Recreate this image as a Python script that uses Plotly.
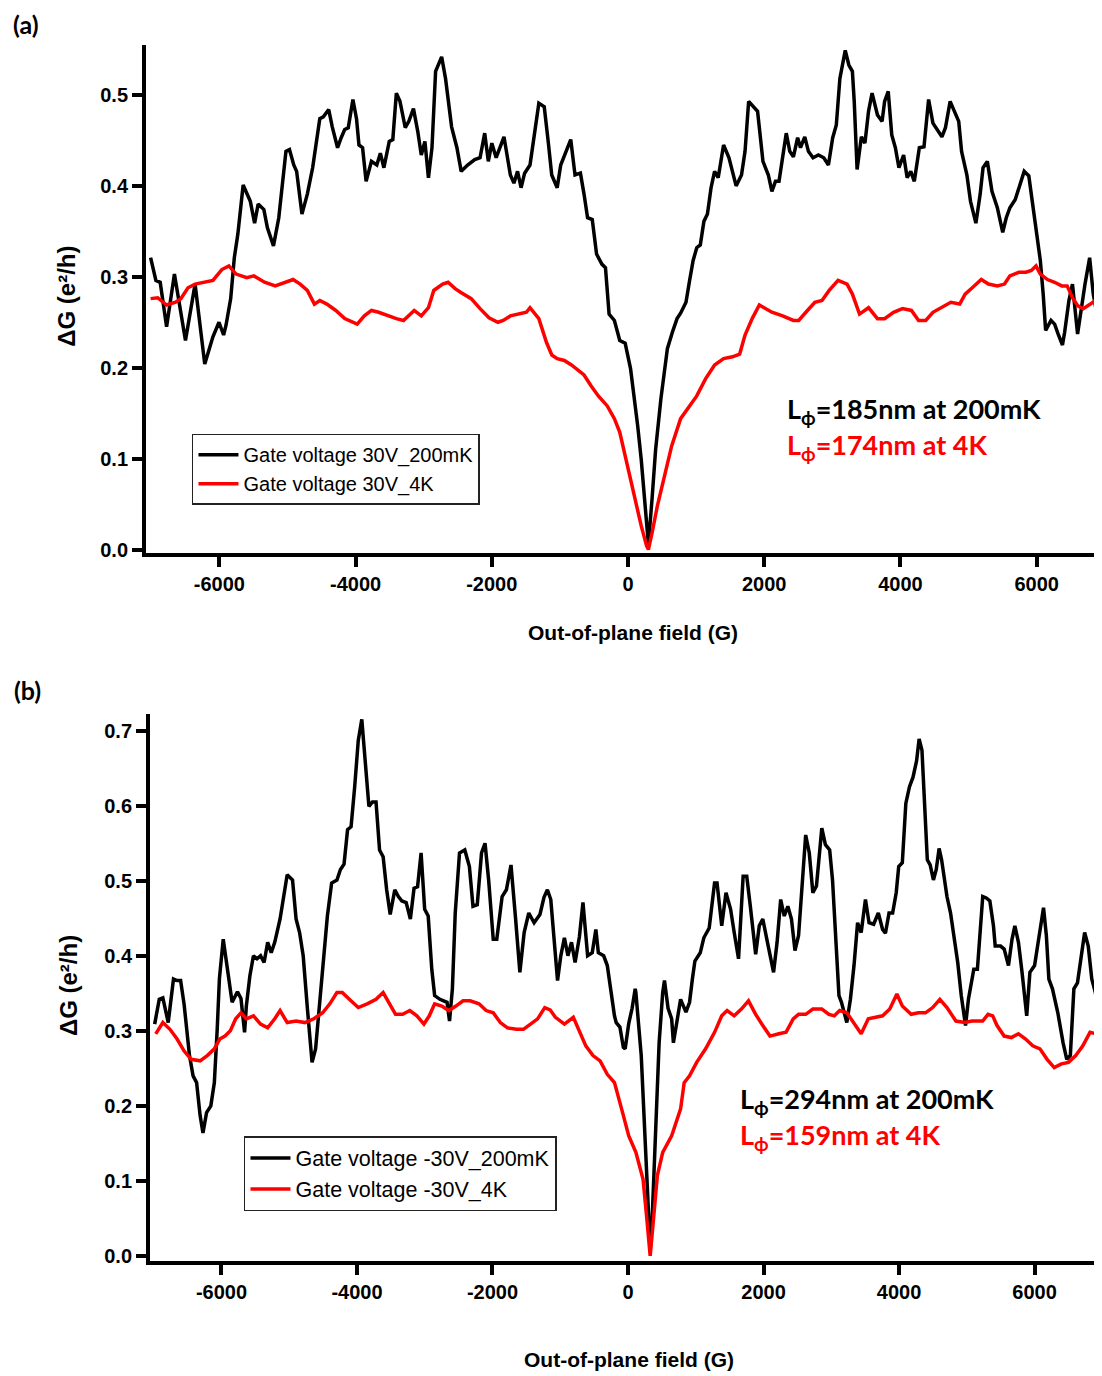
import plotly.graph_objects as go

# ---- panel (a): gate voltage 30 V ----
a_x_200mK = [-7009, -6931, -6868, -6774, -6659, -6497, -6356, -6214, -6094, -6005, -5937, -5901,
             -5833, -5780, -5728, -5650, -5597, -5545, -5482, -5430, -5346, -5294, -5205, -5127,
             -5022, -4970, -4907, -4865, -4787, -4708, -4630, -4525, -4473, -4394, -4342, -4264,
             -4211, -4159, -4107, -4039, -3986, -3950, -3897, -3845, -3767, -3688, -3636, -3584,
             -3505, -3453, -3401, -3348, -3270, -3218, -3150, -3087, -3035, -2982, -2930, -2878,
             -2825, -2736, -2679, -2590, -2512, -2449, -2355, -2250, -2172, -2104, -2051, -1999,
             -1936, -1821, -1727, -1675, -1622, -1570, -1518, -1439, -1309, -1230, -1172, -1120,
             -1040, -988, -909, -841, -778, -699, -646, -594, -525, -462, -384, -331, -278, -200,
             -121, -42, 37, 89, 142, 194, 247, 289, 299, 352, 405, 483, 536, 578, 651, 720, 772,
             851, 904, 956, 1009, 1061, 1114, 1166, 1219, 1271, 1324, 1403, 1482, 1587, 1666, 1718,
             1771, 1849, 1902, 1981, 2060, 2112, 2165, 2217, 2270, 2323, 2375, 2428, 2490, 2532,
             2595, 2648, 2716, 2795, 2874, 2942, 3005, 3058, 3110, 3189, 3242, 3294, 3321, 3363,
             3426, 3478, 3531, 3583, 3662, 3730, 3767, 3820, 3872, 3925, 3977, 4046, 4098, 4151,
             4203, 4277, 4345, 4413, 4476, 4539, 4608, 4660, 4729, 4792, 4855, 4897, 4975, 5028,
             5107, 5170, 5212, 5275, 5343, 5422, 5501, 5553, 5606, 5685, 5737, 5816, 5884, 5937,
             6000, 6053, 6095, 6131, 6210, 6263, 6315, 6378, 6410, 6473, 6525, 6600, 6709, 6777,
             6830, 6867, 6919, 6970]
a_y_200mK = [0.321, 0.296, 0.294, 0.245, 0.303, 0.230, 0.292, 0.204, 0.234, 0.250, 0.236, 0.247,
             0.276, 0.321, 0.347, 0.401, 0.392, 0.383, 0.359, 0.380, 0.374, 0.354, 0.334, 0.365,
             0.438, 0.440, 0.423, 0.416, 0.369, 0.391, 0.420, 0.474, 0.476, 0.484, 0.465, 0.442,
             0.453, 0.462, 0.464, 0.495, 0.474, 0.445, 0.442, 0.405, 0.427, 0.423, 0.436, 0.420,
             0.449, 0.451, 0.502, 0.493, 0.464, 0.471, 0.485, 0.460, 0.434, 0.449, 0.409, 0.442,
             0.526, 0.542, 0.518, 0.465, 0.442, 0.416, 0.423, 0.429, 0.431, 0.458, 0.427, 0.447,
             0.431, 0.454, 0.412, 0.403, 0.416, 0.398, 0.414, 0.423, 0.491, 0.487, 0.449, 0.412,
             0.398, 0.423, 0.438, 0.451, 0.412, 0.414, 0.391, 0.365, 0.363, 0.325, 0.314, 0.310,
             0.259, 0.252, 0.230, 0.227, 0.199, 0.169, 0.136, 0.099, 0.055, 0.011, 0.006, 0.055,
             0.110, 0.166, 0.195, 0.221, 0.239, 0.254, 0.260, 0.272, 0.296, 0.318, 0.332, 0.335,
             0.361, 0.369, 0.398, 0.416, 0.409, 0.445, 0.431, 0.400, 0.412, 0.438, 0.493, 0.487,
             0.482, 0.427, 0.412, 0.394, 0.405, 0.405, 0.434, 0.458, 0.438, 0.432, 0.453, 0.442,
             0.454, 0.438, 0.431, 0.434, 0.431, 0.423, 0.453, 0.467, 0.518, 0.549, 0.533, 0.526,
             0.493, 0.418, 0.454, 0.447, 0.482, 0.502, 0.478, 0.471, 0.493, 0.504, 0.456, 0.442,
             0.420, 0.434, 0.409, 0.416, 0.405, 0.442, 0.443, 0.495, 0.469, 0.462, 0.454, 0.464,
             0.493, 0.482, 0.471, 0.438, 0.412, 0.383, 0.359, 0.391, 0.420, 0.427, 0.394, 0.376,
             0.349, 0.365, 0.376, 0.385, 0.398, 0.416, 0.411, 0.383, 0.347, 0.318, 0.281, 0.241,
             0.252, 0.248, 0.237, 0.225, 0.239, 0.274, 0.292, 0.237, 0.292, 0.321, 0.281, 0.266,
             0.288, 0.275]

a_x_4K = [-7009, -6905, -6774, -6643, -6565, -6460, -6356, -6199, -6094, -5963, -5859, -5754,
          -5597, -5493, -5336, -5179, -5048, -4917, -4813, -4708, -4604, -4525, -4421, -4290,
          -4159, -3976, -3871, -3767, -3662, -3531, -3401, -3296, -3139, -3035, -2930, -2852,
          -2721, -2642, -2538, -2459, -2302, -2172, -2041, -1910, -1832, -1727, -1596, -1492,
          -1439, -1361, -1309, -1198, -1119, -1040, -935, -830, -725, -646, -541, -436, -305,
          -200, -121, -42, 37, 116, 194, 273, 299, 352, 431, 536, 641, 772, 904, 1009, 1140,
          1271, 1403, 1534, 1639, 1718, 1823, 1928, 2112, 2270, 2427, 2506, 2611, 2743, 2848,
          2953, 3084, 3216, 3294, 3399, 3531, 3662, 3767, 3898, 4030, 4161, 4266, 4371, 4476,
          4608, 4739, 4870, 4949, 5054, 5186, 5291, 5422, 5527, 5606, 5737, 5842, 5921, 5990,
          6053, 6158, 6263, 6368, 6447, 6525, 6604, 6683, 6788, 6893, 6970]
a_y_4K = [0.276, 0.277, 0.269, 0.272, 0.276, 0.288, 0.292, 0.294, 0.296, 0.308, 0.312, 0.303,
          0.299, 0.301, 0.294, 0.290, 0.294, 0.297, 0.292, 0.285, 0.270, 0.274, 0.270, 0.263,
          0.254, 0.248, 0.257, 0.263, 0.261, 0.257, 0.254, 0.252, 0.263, 0.257, 0.266, 0.285,
          0.292, 0.294, 0.287, 0.283, 0.276, 0.265, 0.255, 0.250, 0.252, 0.257, 0.259, 0.261,
          0.266, 0.259, 0.254, 0.228, 0.214, 0.210, 0.208, 0.203, 0.197, 0.192, 0.180, 0.169,
          0.158, 0.144, 0.129, 0.103, 0.077, 0.052, 0.026, 0.004, 0.000, 0.018, 0.048, 0.081,
          0.114, 0.144, 0.158, 0.169, 0.188, 0.203, 0.210, 0.212, 0.215, 0.236, 0.254, 0.269,
          0.261, 0.257, 0.252, 0.252, 0.261, 0.272, 0.274, 0.285, 0.296, 0.292, 0.281, 0.259,
          0.266, 0.254, 0.254, 0.261, 0.265, 0.263, 0.252, 0.252, 0.261, 0.266, 0.272, 0.270,
          0.281, 0.288, 0.297, 0.292, 0.290, 0.292, 0.301, 0.305, 0.305, 0.307, 0.312, 0.303,
          0.297, 0.294, 0.290, 0.290, 0.277, 0.268, 0.265, 0.270, 0.276, 0.280]

# ---- panel (b): gate voltage -30 V ----
b_x_200mK = [-6986, -6918, -6865, -6786, -6708, -6655, -6603, -6551, -6472, -6419, -6367, -6315,
             -6273, -6220, -6157, -6105, -6063, -6030, -5974, -5895, -5843, -5764, -5712, -5659,
             -5633, -5581, -5528, -5476, -5423, -5371, -5318, -5266, -5214, -5135, -5083, -5030,
             -4951, -4899, -4847, -4794, -4731, -4663, -4611, -4574, -4506, -4437, -4374, -4296,
             -4244, -4191, -4139, -4087, -4034, -3981, -3929, -3877, -3824, -3772, -3719, -3667,
             -3614, -3562, -3510, -3442, -3389, -3337, -3274, -3212, -3158, -3106, -3054, -3001,
             -2949, -2896, -2854, -2776, -2671, -2634, -2592, -2550, -2487, -2409, -2341, -2288,
             -2225, -2162, -2110, -2057, -1989, -1937, -1858, -1795, -1727, -1659, -1596, -1533,
             -1465, -1386, -1300, -1240, -1190, -1140, -1095, -1040, -992, -939, -887, -834, -781,
             -718, -665, -596, -528, -475, -438, -359, -306, -253, -200, -174, -120, -69, -42, 11,
             60, 106, 116, 195, 248, 301, 327, 354, 406, 459, 512, 538, 591, 644, 670, 723, 776,
             855, 908, 950, 987, 1066, 1119, 1198, 1277, 1314, 1383, 1446, 1514, 1567, 1631, 1699,
             1752, 1805, 1857, 1884, 1937, 1989, 2069, 2148, 2200, 2253, 2306, 2359, 2412, 2464,
             2517, 2570, 2622, 2675, 2728, 2781, 2860, 2913, 2976, 3018, 3071, 3113, 3150, 3229,
             3282, 3335, 3388, 3441, 3504, 3557, 3625, 3694, 3757, 3799, 3852, 3905, 3958, 3995,
             4048, 4100, 4153, 4206, 4259, 4296, 4338, 4380, 4417, 4459, 4507, 4549, 4591, 4628,
             4665, 4707, 4760, 4813, 4866, 4918, 4981, 5024, 5050, 5103, 5156, 5208, 5235, 5287,
             5340, 5393, 5419, 5498, 5551, 5615, 5667, 5709, 5762, 5815, 5884, 5931, 6000, 6053,
             6090, 6132, 6174, 6211, 6264, 6343, 6421, 6475, 6528, 6580, 6633, 6686, 6739, 6792,
             6844, 6897, 6950, 7000]
b_y_200mK = [0.309, 0.342, 0.344, 0.311, 0.369, 0.367, 0.367, 0.335, 0.267, 0.240, 0.231, 0.187,
             0.164, 0.191, 0.200, 0.231, 0.302, 0.370, 0.422, 0.369, 0.338, 0.352, 0.343, 0.298,
             0.333, 0.373, 0.400, 0.396, 0.400, 0.391, 0.418, 0.404, 0.418, 0.449, 0.475, 0.508,
             0.501, 0.449, 0.431, 0.400, 0.329, 0.258, 0.276, 0.311, 0.382, 0.453, 0.497, 0.501,
             0.515, 0.522, 0.568, 0.572, 0.625, 0.687, 0.715, 0.656, 0.599, 0.605, 0.605, 0.541,
             0.532, 0.488, 0.455, 0.488, 0.479, 0.473, 0.471, 0.449, 0.490, 0.492, 0.537, 0.462,
             0.453, 0.382, 0.347, 0.342, 0.338, 0.313, 0.356, 0.457, 0.537, 0.541, 0.519, 0.466,
             0.468, 0.537, 0.550, 0.501, 0.422, 0.422, 0.479, 0.488, 0.521, 0.449, 0.378, 0.431,
             0.457, 0.444, 0.455, 0.478, 0.488, 0.475, 0.430, 0.367, 0.400, 0.424, 0.400, 0.418,
             0.391, 0.425, 0.471, 0.400, 0.404, 0.435, 0.404, 0.400, 0.387, 0.351, 0.320, 0.311,
             0.305, 0.278, 0.276, 0.310, 0.330, 0.356, 0.351, 0.267, 0.156, 0.044, 0.009, 0.044,
             0.169, 0.284, 0.351, 0.367, 0.330, 0.316, 0.284, 0.311, 0.342, 0.325, 0.338, 0.369,
             0.393, 0.404, 0.424, 0.437, 0.497, 0.497, 0.440, 0.484, 0.462, 0.431, 0.396, 0.506,
             0.506, 0.466, 0.422, 0.402, 0.440, 0.449, 0.413, 0.378, 0.418, 0.475, 0.453, 0.466,
             0.449, 0.407, 0.427, 0.501, 0.561, 0.537, 0.484, 0.493, 0.570, 0.548, 0.541, 0.501,
             0.409, 0.347, 0.338, 0.311, 0.342, 0.387, 0.444, 0.431, 0.475, 0.444, 0.442, 0.457,
             0.435, 0.430, 0.457, 0.457, 0.484, 0.519, 0.524, 0.603, 0.625, 0.638, 0.660, 0.689,
             0.674, 0.590, 0.528, 0.521, 0.501, 0.515, 0.543, 0.528, 0.501, 0.479, 0.457, 0.427,
             0.391, 0.347, 0.307, 0.342, 0.356, 0.382, 0.382, 0.449, 0.479, 0.477, 0.473, 0.440,
             0.413, 0.413, 0.409, 0.387, 0.422, 0.440, 0.418, 0.378, 0.320, 0.378, 0.387, 0.418,
             0.440, 0.464, 0.427, 0.369, 0.356, 0.324, 0.284, 0.262, 0.267, 0.356, 0.364, 0.396,
             0.431, 0.413, 0.369, 0.351, 0.321, 0.320]

b_x_4K = [-6970, -6865, -6760, -6655, -6551, -6446, -6315, -6210, -6105, -6026, -5948, -5869,
          -5790, -5712, -5633, -5528, -5423, -5318, -5214, -5135, -5030, -4899, -4768, -4637,
          -4506, -4401, -4296, -4217, -4113, -3981, -3850, -3719, -3614, -3536, -3431, -3326,
          -3221, -3116, -3012, -2933, -2854, -2749, -2645, -2540, -2435, -2330, -2199, -2094,
          -1989, -1884, -1779, -1644, -1544, -1439, -1334, -1229, -1150, -1071, -939, -807, -728,
          -623, -517, -412, -306, -200, -95, 11, 116, 222, 274, 327, 380, 433, 512, 644, 776,
          829, 908, 1013, 1145, 1277, 1383, 1462, 1567, 1673, 1778, 1884, 1989, 2095, 2227,
          2332, 2438, 2517, 2623, 2728, 2860, 2966, 3045, 3124, 3230, 3335, 3441, 3546, 3652,
          3757, 3863, 3968, 4048, 4179, 4285, 4390, 4496, 4602, 4707, 4839, 4971, 5076, 5234,
          5313, 5382, 5446, 5551, 5657, 5762, 5868, 5973, 6079, 6185, 6290, 6396, 6501, 6607,
          6712, 6818, 6923, 7000]
b_y_4K = [0.296, 0.311, 0.302, 0.289, 0.273, 0.262, 0.260, 0.267, 0.276, 0.289, 0.293, 0.300,
          0.316, 0.324, 0.316, 0.320, 0.309, 0.304, 0.316, 0.327, 0.311, 0.313, 0.311, 0.316,
          0.324, 0.336, 0.351, 0.351, 0.342, 0.331, 0.336, 0.342, 0.351, 0.338, 0.322, 0.322,
          0.327, 0.320, 0.309, 0.320, 0.336, 0.333, 0.327, 0.333, 0.340, 0.340, 0.336, 0.327,
          0.324, 0.311, 0.304, 0.302, 0.302, 0.309, 0.316, 0.331, 0.328, 0.318, 0.309, 0.318,
          0.302, 0.280, 0.267, 0.260, 0.242, 0.231, 0.196, 0.160, 0.138, 0.102, 0.053, 0.000,
          0.053, 0.107, 0.138, 0.160, 0.196, 0.231, 0.240, 0.258, 0.276, 0.298, 0.320, 0.327,
          0.320, 0.329, 0.340, 0.322, 0.307, 0.293, 0.296, 0.298, 0.316, 0.322, 0.322, 0.329,
          0.329, 0.322, 0.320, 0.327, 0.324, 0.311, 0.296, 0.316, 0.318, 0.320, 0.329, 0.349,
          0.333, 0.322, 0.324, 0.324, 0.331, 0.342, 0.331, 0.313, 0.311, 0.313, 0.313, 0.322,
          0.320, 0.307, 0.293, 0.291, 0.296, 0.289, 0.280, 0.276, 0.262, 0.251, 0.256, 0.258,
          0.267, 0.280, 0.298, 0.296, 0.290]

x_ticks = [-6000, -4000, -2000, 0, 2000, 4000, 6000]
x_tick_text = ["-6000", "-4000", "-2000", "0", "2000", "4000", "6000"]
a_y_ticks = [0.0, 0.1, 0.2, 0.3, 0.4, 0.5]
b_y_ticks = [0.0, 0.1, 0.2, 0.3, 0.4, 0.5, 0.6, 0.7]

SANS = "Liberation Sans, Arial, sans-serif"
CAL = "Lato, Open Sans, sans-serif"
RED = "#ff0000"

fig = go.Figure()

fig.add_trace(go.Scatter(x=a_x_200mK, y=a_y_200mK, mode="lines", name="Gate voltage 30V_200mK",
                         line=dict(color="black", width=3.5), xaxis="x", yaxis="y", legend="legend"))
fig.add_trace(go.Scatter(x=a_x_4K, y=a_y_4K, mode="lines", name="Gate voltage 30V_4K",
                         line=dict(color=RED, width=3.5), xaxis="x", yaxis="y", legend="legend"))
fig.add_trace(go.Scatter(x=b_x_200mK, y=b_y_200mK, mode="lines", name="Gate voltage -30V_200mK",
                         line=dict(color="black", width=3.5), xaxis="x2", yaxis="y2", legend="legend2"))
fig.add_trace(go.Scatter(x=b_x_4K, y=b_y_4K, mode="lines", name="Gate voltage -30V_4K",
                         line=dict(color=RED, width=3.5), xaxis="x2", yaxis="y2", legend="legend2"))

axis_style = dict(showline=True, linewidth=4, linecolor="black", ticks="outside", ticklen=10,
                  tickwidth=4, tickcolor="black", showgrid=False, zeroline=False,
                  tickfont=dict(family=SANS, size=20, color="black", weight="bold"))

legend_style = dict(xanchor="left", yanchor="top", bgcolor="white", bordercolor="#222",
                    borderwidth=1.5, tracegroupgap=0, itemwidth=40)

# the page body keeps its 8px margin, so the figure sits 8px in from the corner
fig.update_layout(
    width=1086, height=1368,
    margin=dict(l=0, r=0, t=0, b=0),
    paper_bgcolor="white", plot_bgcolor="white",
    xaxis=dict(domain=[0.1271, 1.0], range=[-7076, 6841], anchor="y",
               tickvals=x_ticks, ticktext=x_tick_text, **axis_style),
    yaxis=dict(domain=[0.5996, 0.9728], range=[-0.0033, 0.555], anchor="x",
               tickvals=a_y_ticks, tickformat=".1f", **axis_style),
    xaxis2=dict(domain=[0.1308, 1.0], range=[-7054, 6877], anchor="y2",
                tickvals=x_ticks, ticktext=x_tick_text, **axis_style),
    yaxis2=dict(domain=[0.0787, 0.4806], range=[-0.0067, 0.7217], anchor="x2",
                tickvals=b_y_ticks, tickformat=".1f", **axis_style),
    legend=dict(x=0.1694, y=0.6870, font=dict(family=SANS, size=20, color="black"),
                **legend_style),
    legend2=dict(x=0.2173, y=0.1705, font=dict(family=SANS, size=21.5, color="black"),
                 **legend_style),
)

notes = [
    dict(text="(a)", x=0.0166, y=0.9882, font=dict(family=CAL, size=25, color="black", weight="bold")),
    dict(text="(b)", x=0.0175, y=0.4982, font=dict(family=CAL, size=25, color="black", weight="bold")),
    dict(text="Out-of-plane field (G)", x=0.5755, y=0.5408,
         font=dict(family=SANS, size=21, color="black", weight="bold")),
    dict(text="Out-of-plane field (G)", x=0.5718, y=0.0060,
         font=dict(family=SANS, size=21, color="black", weight="bold")),
    dict(text="ΔG (e²/h)", x=0.0543, y=0.7884, textangle=-90,
         font=dict(family=SANS, size=24, color="black", weight="bold")),
    dict(text="ΔG (e²/h)", x=0.0552, y=0.2815, textangle=-90,
         font=dict(family=SANS, size=24, color="black", weight="bold")),
]
for n in notes:
    fig.add_annotation(xref="paper", yref="paper", showarrow=False, xanchor="center",
                       yanchor="middle", **n)

lphi = [
    ("L<sub>ϕ</sub>=185nm at 200mK", 0.7155, 0.7039, "black"),
    ("L<sub>ϕ</sub>=174nm at 4K", 0.7155, 0.6775, RED),
    ("L<sub>ϕ</sub>=294nm at 200mK", 0.6722, 0.1970, "black"),
    ("L<sub>ϕ</sub>=159nm at 4K", 0.6722, 0.1705, RED),
]
for txt, x, y, c in lphi:
    fig.add_annotation(xref="paper", yref="paper", showarrow=False, text=txt, x=x, y=y,
                       xanchor="left", yanchor="middle",
                       font=dict(family=CAL, size=27, color=c, weight="bold"))

fig.write_html("out.html")
